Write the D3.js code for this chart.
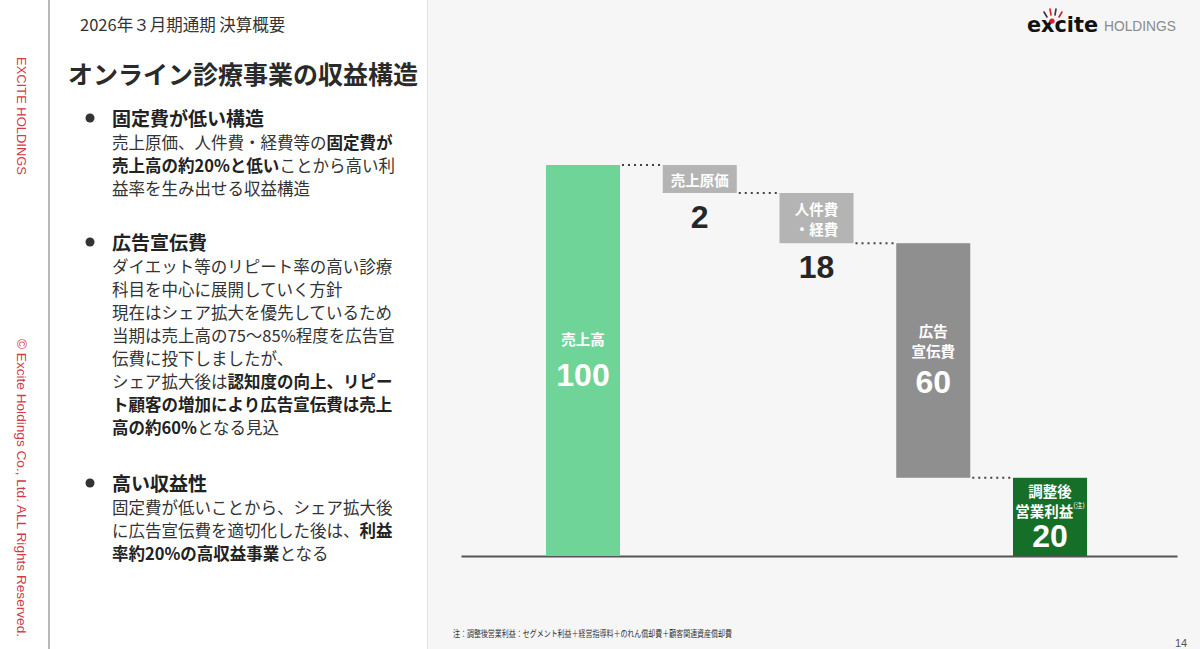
<!DOCTYPE html>
<html lang="ja">
<head>
<meta charset="utf-8">
<script src="https://cdn.jsdelivr.net/npm/d3@7"></script>
<style>
  html, body { margin: 0; padding: 0; background: #ffffff; }
  svg { display: block; }
</style>
</head>
<body>
<svg id="chart" width="1200" height="649"></svg>
<script>
// ---------------- DATA ----------------
const categories = ["売上高", "売上原価", "人件費・経費", "広告宣伝費", "調整後営業利益"];
const values = [100, 2, 18, 60, 20];
const kinds = ["total", "decrease", "decrease", "decrease", "total"];
const labelLines = [["売上高"], ["売上原価"], ["人件費", "・経費"], ["広告", "宣伝費"], ["調整後", "営業利益"]];
const labelNotes = ["", "", "", "", "(注)"];
const yDomain = [0, 100];

const pageSubtitle = "2026年３月期通期 決算概要";
const pageTitle = "オンライン診療事業の収益構造";
const sections = [
  { heading: "固定費が低い構造", lines: [
    [["売上原価、人件費・経費等の", 0], ["固定費が", 1]],
    [["売上高の約20%と低い", 1], ["ことから高い利", 0]],
    [["益率を生み出せる収益構造", 0]]
  ]},
  { heading: "広告宣伝費", lines: [
    [["ダイエット等のリピート率の高い診療", 0]],
    [["科目を中心に展開していく方針", 0]],
    [["現在はシェア拡大を優先しているため", 0]],
    [["当期は売上高の75～85%程度を広告宣", 0]],
    [["伝費に投下しましたが、", 0]],
    [["シェア拡大後は", 0], ["認知度の向上、リピー", 1]],
    [["ト顧客の増加により広告宣伝費は売上", 1]],
    [["高の約60%", 1], ["となる見込", 0]]
  ]},
  { heading: "高い収益性", lines: [
    [["固定費が低いことから、シェア拡大後", 0]],
    [["に広告宣伝費を適切化した後は、", 0], ["利益", 1]],
    [["率約20%の高収益事業", 1], ["となる", 0]]
  ]}
];
const footnote = "注：調整後営業利益：セグメント利益＋経営指導料＋のれん償却費＋顧客関連資産償却費";
const pageNumber = "14";

// ---------------- STYLE ----------------
const JP = "'Noto Sans CJK JP', 'Noto Sans', sans-serif";
const NUM = "'Liberation Sans', Arial, sans-serif";
const barColors = ["#6fd498", "#b4b4b4", "#b4b4b4", "#8f8f8f", "#166f29"];

const svg = d3.select("#chart");

// Backgrounds
svg.append("rect").attr("x", 0).attr("y", 0).attr("width", 1200).attr("height", 649).attr("fill", "#ffffff");
svg.append("rect").attr("x", 428).attr("y", 0).attr("width", 772).attr("height", 649).attr("fill", "#f6f6f6");
svg.append("line").attr("x1", 427.5).attr("x2", 427.5).attr("y1", 0).attr("y2", 649)
  .attr("stroke", "#e3e3e3").attr("stroke-width", 1);
svg.append("line").attr("x1", 49).attr("x2", 49).attr("y1", 0).attr("y2", 649)
  .attr("stroke", "#a0a0a0").attr("stroke-width", 1.5);

// Vertical side text
const red = "#d23a48";
svg.append("text").attr("transform", "translate(21,57) rotate(90)")
  .attr("font-family", NUM).attr("font-size", 13).attr("fill", red)
  .attr("dominant-baseline", "central").attr("textLength", 118).attr("lengthAdjust", "spacingAndGlyphs")
  .text("EXCITE HOLDINGS");
svg.append("text").attr("transform", "translate(21,339) rotate(90)")
  .attr("font-family", NUM).attr("font-size", 13).attr("fill", red)
  .attr("dominant-baseline", "central").attr("textLength", 298).attr("lengthAdjust", "spacingAndGlyphs")
  .text("© Excite Holdings Co., Ltd. ALL Rights Reserved.");

// Header texts
svg.append("text").attr("x", 80).attr("y", 24).attr("dominant-baseline", "central")
  .attr("font-family", JP).attr("font-size", 16.5).attr("fill", "#333").text(pageSubtitle);
svg.append("text").attr("x", 68).attr("y", 73).attr("dominant-baseline", "central")
  .attr("font-family", JP).attr("font-size", 25).attr("font-weight", 700).attr("fill", "#2a2a2a").text(pageTitle);

// Left bullet sections
const headingYs = [117, 241, 482];
const lineGap = 23;
sections.forEach((s, si) => {
  const hy = headingYs[si];
  svg.append("circle").attr("cx", 90).attr("cy", hy + 1).attr("r", 4.5).attr("fill", "#333");
  svg.append("text").attr("x", 112).attr("y", hy).attr("dominant-baseline", "central")
    .attr("font-family", JP).attr("font-size", 19).attr("font-weight", 700).attr("fill", "#222").text(s.heading);
  s.lines.forEach((ln, li) => {
    const t = svg.append("text").attr("x", 112).attr("y", hy + 25 + li * lineGap)
      .attr("dominant-baseline", "central").attr("font-family", JP).attr("font-size", 16.5).attr("fill", "#333");
    ln.forEach(seg => {
      t.append("tspan").attr("font-weight", seg[1] ? 700 : 400).attr("fill", seg[1] ? "#222" : "#333").text(seg[0]);
    });
  });
});

// Logo
const logo = svg.append("g");
logo.append("text").attr("x", 1027).attr("y", 32).attr("font-family", "'DejaVu Sans', sans-serif")
  .attr("font-weight", 700).attr("font-size", 21).attr("fill", "#111")
  .attr("textLength", 71).attr("lengthAdjust", "spacingAndGlyphs").text("excite");
logo.append("circle").attr("cx", 1052).attr("cy", 21).attr("r", 2.6).attr("fill", "#d0202a");
[[1044, 12, 1047, 17, "#333"], [1050, 9, 1051, 15, "#d0202a"], [1056, 9, 1055, 15, "#333"], [1062, 12, 1059, 17, "#d0202a"]]
  .forEach(r => logo.append("line").attr("x1", r[0]).attr("y1", r[1]).attr("x2", r[2]).attr("y2", r[3])
    .attr("stroke", r[4]).attr("stroke-width", 1.6).attr("stroke-linecap", "round"));
logo.append("text").attr("x", 1104).attr("y", 31).attr("font-family", NUM)
  .attr("font-size", 14.5).attr("fill", "#8a8a8a").attr("textLength", 72).attr("lengthAdjust", "spacingAndGlyphs")
  .text("HOLDINGS");

// ---------------- CHART ----------------
const x = d3.scaleBand().domain(categories).range([466, 1167]).paddingInner(0.366).paddingOuter(0.685);
const y = d3.scaleLinear().domain(yDomain).range([556, 165]);
const minBoxH = 28;

let cum = 0, prevEdge = null;
const boxes = categories.map((c, i) => {
  let top, bottom;
  if (kinds[i] === "total") {
    cum = values[i];
    top = y(cum); bottom = y(0);
    prevEdge = top;
  } else {
    top = prevEdge;
    cum -= values[i];
    bottom = Math.max(y(cum), top + minBoxH);
    prevEdge = bottom;
  }
  return { c, i, v: values[i], top, bottom, x0: x(c), w: x.bandwidth() };
});

// baseline axis
const axisG = svg.append("g").attr("transform", `translate(0,${y(0)})`);
axisG.call(d3.axisBottom(d3.scaleLinear().range([461, 1177])).ticks(0).tickSize(0).tickFormat(""));
axisG.select(".domain").attr("stroke", "#555").attr("stroke-width", 2);

// connectors
for (let i = 0; i < boxes.length - 1; i++) {
  const a = boxes[i], b = boxes[i + 1];
  svg.append("line").attr("x1", a.x0 + a.w + 2).attr("x2", b.x0).attr("y1", b.top).attr("y2", b.top)
    .attr("stroke", "#444").attr("stroke-width", 2).attr("stroke-dasharray", "2,4");
}

// bars
svg.selectAll("rect.bar").data(boxes).join("rect").attr("class", "bar")
  .attr("x", d => d.x0).attr("y", d => d.top).attr("width", d => d.w)
  .attr("height", d => d.bottom - d.top).attr("fill", (d, i) => barColors[i]);

const fmt = d3.format("d");
const lh = 20;
boxes.forEach(d => {
  const cx = d.x0 + d.w / 2;
  const h = d.bottom - d.top;
  const lines = labelLines[d.i];
  const n = lines.length;
  const drawLabel = (cy0) => {
    lines.forEach((ln, li) => {
      const t = svg.append("text").attr("x", cx).attr("y", cy0 + li * lh).attr("text-anchor", "middle")
        .attr("dominant-baseline", "central").attr("font-family", JP).attr("font-size", 14.5)
        .attr("font-weight", 700).attr("fill", "#fff").text(ln);
      if (li === n - 1 && labelNotes[d.i]) {
        t.append("tspan").attr("font-size", 7).attr("font-weight", 400).attr("dy", -5).text(labelNotes[d.i]);
      }
    });
  };
  if (h < 60) {
    const mid = (d.top + d.bottom) / 2;
    drawLabel(mid - (n - 1) * lh / 2);
    svg.append("text").attr("x", cx).attr("y", d.bottom + 35).attr("text-anchor", "middle")
      .attr("font-family", NUM).attr("font-weight", 700).attr("font-size", 32).attr("fill", "#262626")
      .text(fmt(d.v));
  } else {
    const gap = Math.min(48, 34 + h * 0.035);
    const blockH = 9 + (n - 1) * lh + gap;
    const topB = (d.top + d.bottom) / 2 - blockH / 2 - 3;
    drawLabel(topB + 9);
    svg.append("text").attr("x", cx).attr("y", topB + blockH).attr("text-anchor", "middle")
      .attr("font-family", NUM).attr("font-weight", 700).attr("font-size", 32).attr("fill", "#fff")
      .text(fmt(d.v));
  }
});

// footnote & page number
svg.append("text").attr("x", 453).attr("y", 633).attr("dominant-baseline", "central")
  .attr("font-family", JP).attr("font-size", 8.8).attr("fill", "#333")
  .attr("textLength", 279).attr("lengthAdjust", "spacingAndGlyphs").text(footnote);
svg.append("text").attr("x", 1175).attr("y", 647).attr("font-family", NUM).attr("font-size", 11)
  .attr("fill", "#555").text(pageNumber);
</script>
</body>
</html>
